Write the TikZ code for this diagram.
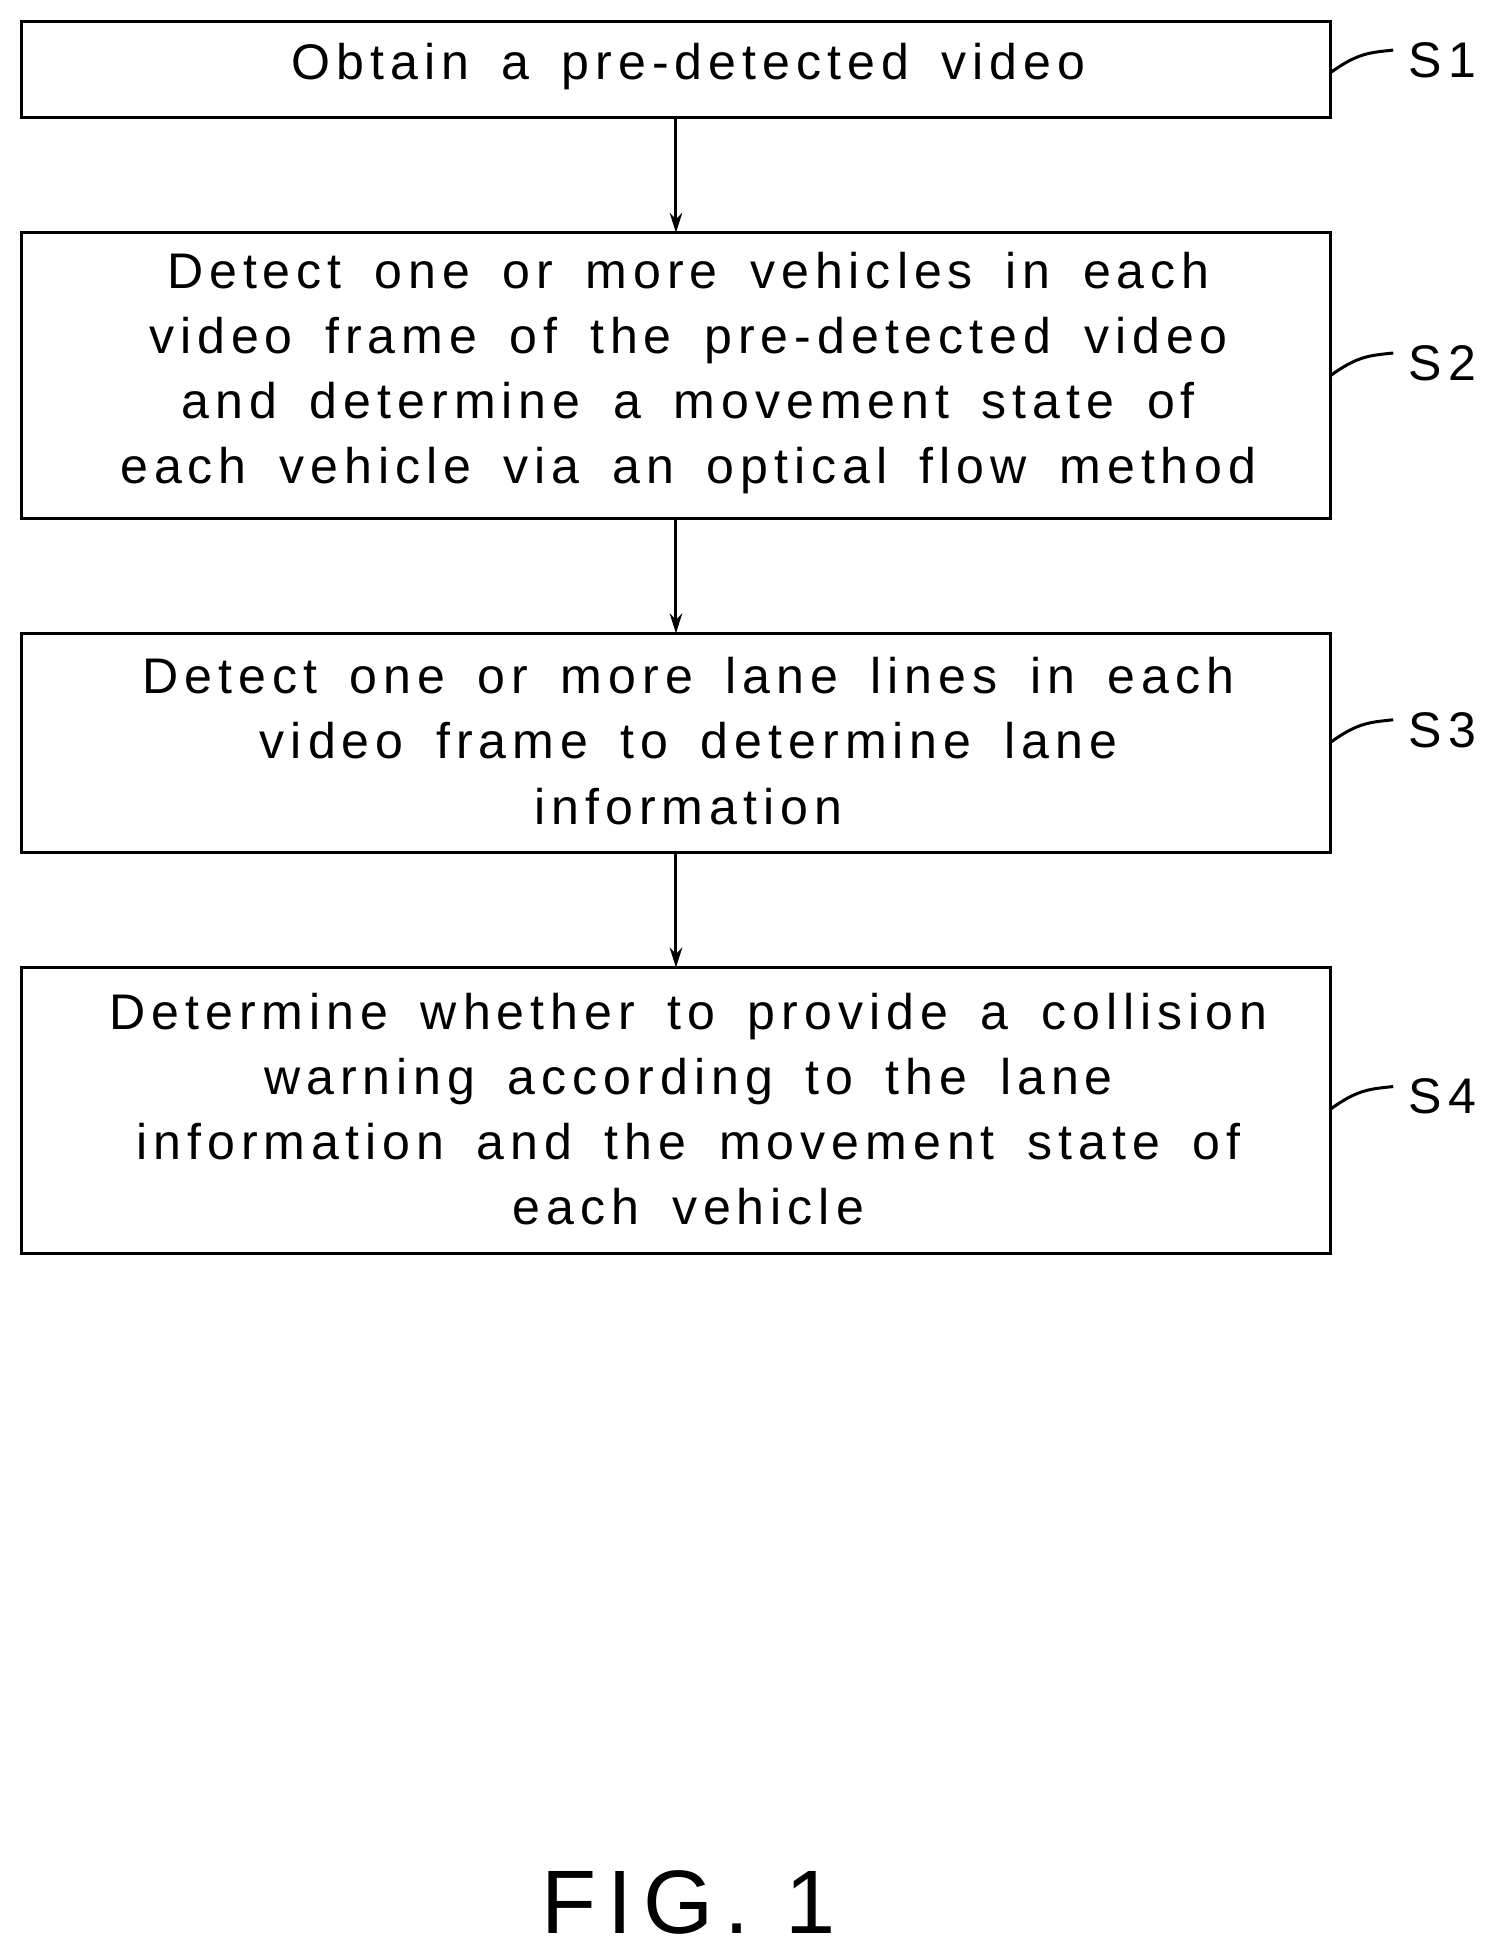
\documentclass[tikz,border=0pt]{standalone}
\usepackage{fontspec}
\setmainfont{Liberation Sans}
\newfontfamily\widefont[LetterSpace=12]{Liberation Sans}
\usetikzlibrary{arrows.meta}
\newcommand{\mywsp}{\spaceskip=0.65em plus 0.2em\relax}
\begin{document}
\begin{tikzpicture}[x=1pt,y=-1pt,
  box/.style={draw,line width=2.4pt},
  txt/.style={align=center,font=\widefont\fontsize{40}{52}\selectfont\mywsp},
  arr/.style={line width=2.4pt,-{Stealth[length=16pt,width=10pt]}},
  lbl/.style={font=\widefont\fontsize{40}{48}\selectfont,anchor=west},
  tick/.style={line width=2.4pt}]
\useasboundingbox (0,0) rectangle (1200,1565);
\draw[box] (17,17) rectangle (1063,94);
\draw[box] (17,186) rectangle (1063,414);
\draw[box] (17,506) rectangle (1063,681);
\draw[box] (17,773) rectangle (1063,1001);
\coordinate (b1b) at (540,94); \coordinate (b2t) at (540,186);
\coordinate (b2b) at (540,414); \coordinate (b3t) at (540,506);
\coordinate (b3b) at (540,681); \coordinate (b4t) at (540,773);
\node[txt] (t1) at (550,53) {Obtain a pre-detected video};
\node[txt] (t2) at (550,298) {Detect one or more vehicles in each\\video frame of the pre-detected video\\and determine a movement state of\\each vehicle via an optical flow method};
\node[txt] (t3) at (550,592) {Detect one or more lane lines in each\\video frame to determine lane\\information};
\node[txt] (t4) at (550,886) {Determine whether to provide a collision\\warning according to the lane\\information and the movement state of\\each vehicle};
\draw[arr] (b1b) -- (b2t);
\draw[arr] (b2b) -- (b3t);
\draw[arr] (b3b) -- (b4t);
\foreach \i/\y in {1/48,2/290,3/583,4/876}{
  \coordinate (e\i) at (1063,\y+10);
  \coordinate (f\i) at (1113,\y-8);
  \draw[tick] (e\i) .. controls (1085,\y-6) and (1095,\y-6) .. (f\i);
  \node[lbl] (s\i) at (1122,\y) {S\i};
}
\node[font=\widefont\fontsize{72}{80}\selectfont] (fig) at (550,1520) {FIG. 1};
\end{tikzpicture}
\end{document}
